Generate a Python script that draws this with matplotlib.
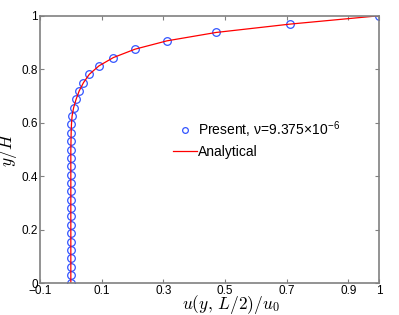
import matplotlib.pyplot as plt

plt.rcParams['font.family'] = ['Liberation Sans', 'DejaVu Sans']
plt.rcParams['mathtext.fontset'] = 'cm'

# values
y_H = [0.0, 0.03125, 0.0625, 0.09375, 0.125, 0.15625, 0.1875, 0.21875,
       0.25, 0.28125, 0.3125, 0.34375, 0.375, 0.40625, 0.4375, 0.46875,
       0.5, 0.53125, 0.5625, 0.59375, 0.625, 0.65625, 0.6875, 0.71875,
       0.75, 0.78125, 0.8125, 0.84375, 0.875, 0.90625, 0.9375, 0.96875, 1.0]
u_present = [0.0, 0.0, 0.0, 0.0, 0.0, 0.0, 0.0, 0.0,
             0.0, 0.0, 0.0, 0.0, 0.0, 0.0, 0.0, 0.0,
             0.0, 0.0005, 0.001, 0.002, 0.004, 0.009, 0.017, 0.027,
             0.041, 0.060, 0.091, 0.138, 0.208, 0.312, 0.471, 0.711, 1.0]
u_analytical = u_present

xticks = [-0.1, 0.1, 0.3, 0.5, 0.7, 0.9, 1.0]
xticklabels = ['\u22120.1', '0.1', '0.3', '0.5', '0.7', '0.9', '1']
yticks = [0, 0.2, 0.4, 0.6, 0.8, 1.0]
yticklabels = ['0', '0.2', '0.4', '0.6', '0.8', '1']

fig = plt.figure(figsize=(3.99, 3.15), dpi=100)
ax = fig.add_axes([0.1003, 0.1006, 0.8497, 0.8494])

ax.plot(u_present, y_H, 'o', mfc='none', mec='#3355ff', ms=5.5, mew=0.9,
        label='Present, \u03bd=9.375\u00d710$^{\\mathregular{-6}}$')
ax.plot(u_analytical, y_H, '-', color='red', lw=0.9, label='Analytical')

ax.set_xlim(-0.1, 1)
ax.set_ylim(0, 1)
ax.set_xticks(xticks)
ax.set_xticklabels(xticklabels)
ax.set_yticks(yticks)
ax.set_yticklabels(yticklabels)
ax.tick_params(direction='in', top=True, right=True, length=3, color='#808080',
               labelsize=8.5, pad=1.5)
for s in ax.spines.values():
    s.set_color('#808080')
    s.set_linewidth(1.2)

ax.set_xlabel('$u(y,\\,L/2)/u_0$', fontsize=12.5)
ax.xaxis.set_label_coords(0.563, -0.035, transform=ax.transAxes)
ax.xaxis.label.set_va('top')
ax.set_ylabel('$y/H$', fontsize=12.5)
ax.yaxis.set_label_coords(-0.062, 0.5, transform=ax.transAxes)

ax.legend(loc='center left', bbox_to_anchor=(0.392, 0.537), frameon=False,
          fontsize=10, handlelength=1.7, handletextpad=0.1, labelspacing=0.35,
          borderaxespad=0, borderpad=0, markerscale=0.75)

fig.savefig('out.png', dpi=100)
